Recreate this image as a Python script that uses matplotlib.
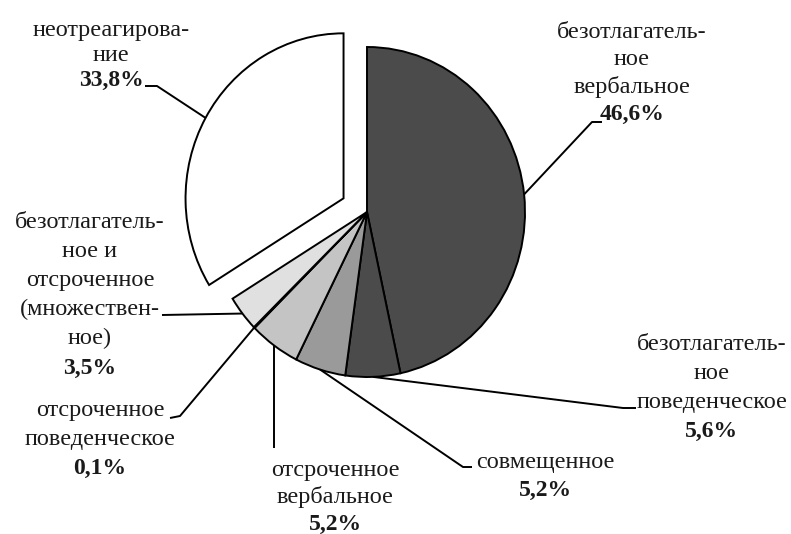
import numpy as np
import matplotlib
matplotlib.use('Agg')
import matplotlib.pyplot as plt

# slices, clockwise from 12 o'clock
NAMES = [
    ['безотлагатель-', 'ное', 'вербальное'],
    ['безотлагатель-', 'ное', 'поведенческое'],
    ['совмещенное'],
    ['отсроченное', 'вербальное'],
    ['отсроченное', 'поведенческое'],
    ['безотлагатель-', 'ное и', 'отсроченное', '(множествен-', 'ное)'],
    ['неотреагирова-', 'ние'],
]
SHARES = [46.6, 5.6, 5.2, 5.2, 0.1, 3.5, 33.8]
PCT_TEXT = ['46,6%', '5,6%', '5,2%', '5,2%', '0,1%', '3,5%', '33,8%']
COLORS = ['#4b4b4b', '#4b4b4b', '#9a9a9a', '#c4c4c4', '#d8d8d8', '#e0e0e0', '#ffffff']
EXPLODE = [0, 0, 0, 0, 0, 0, 0.17]

# layout in pixels (origin top-left): pie centre and radii
W, H = 791, 534
CX, CY = 367, 212
RX, RY = 158, 165

# label placement: centre x, first line y, line step
LABEL_POS = [
    (632, 32, 27.5),
    (712, 344, 29),
    (545, 462, 28),
    (335, 470, 27),
    (100, 410, 29),
    (90, 222, 29.2),
    (111, 30, 25),
]
# leader knees near the text (pixels), tip goes to wedge middle
KNEES = [
    [(602, 122), (592, 122)],
    [(636, 408), (623, 408)],
    [(472, 467), (463, 467)],
    None,
    [(170, 418), (180, 416)],
    [(162, 315)],
    [(145, 86), (157, 86)],
]


def px(x, y):
    return (x - CX) / RX, (CY - y) / RY


fig = plt.figure(figsize=(W / 100, H / 100), dpi=100)
ax = fig.add_axes([0, 0, 1, 1])

wedges, _ = ax.pie(
    SHARES,
    colors=COLORS,
    explode=EXPLODE,
    startangle=90,
    counterclock=False,
    wedgeprops=dict(edgecolor='black', linewidth=1.4),
)
ax.set_aspect('auto')
ax.set_xlim(px(0, 0)[0], px(W, 0)[0])
ax.set_ylim(px(0, H)[1], px(0, 0)[1])
ax.axis('off')

font = 'Liberation Serif'
fs = 17.5

for i, w in enumerate(wedges):
    mid = np.deg2rad((w.theta1 + w.theta2) / 2)
    tip = (w.center[0] + w.r * np.cos(mid), w.center[1] + w.r * np.sin(mid))

    cx, y0, step = LABEL_POS[i]
    lines = NAMES[i]
    for j, s in enumerate(lines):
        ax.text(*px(cx, y0 + j * step), s, ha='center', va='center',
                fontsize=fs, family=font, color='#1a1a1a')
    ax.text(*px(cx, y0 + len(lines) * step), PCT_TEXT[i], ha='center', va='center',
            fontsize=fs - 0.5, family=font, fontweight='bold', color='#1a1a1a')

    if KNEES[i] is None:
        # straight down to the label
        pts = [tip, (tip[0], px(0, y0 - 22)[1])]
    else:
        pts = [px(*k) for k in KNEES[i]] + [tip]
    xs, ys = zip(*pts)
    ax.plot(xs, ys, color='black', linewidth=1.4, solid_capstyle='butt')

fig.savefig('out.png', dpi=100, facecolor='white')
